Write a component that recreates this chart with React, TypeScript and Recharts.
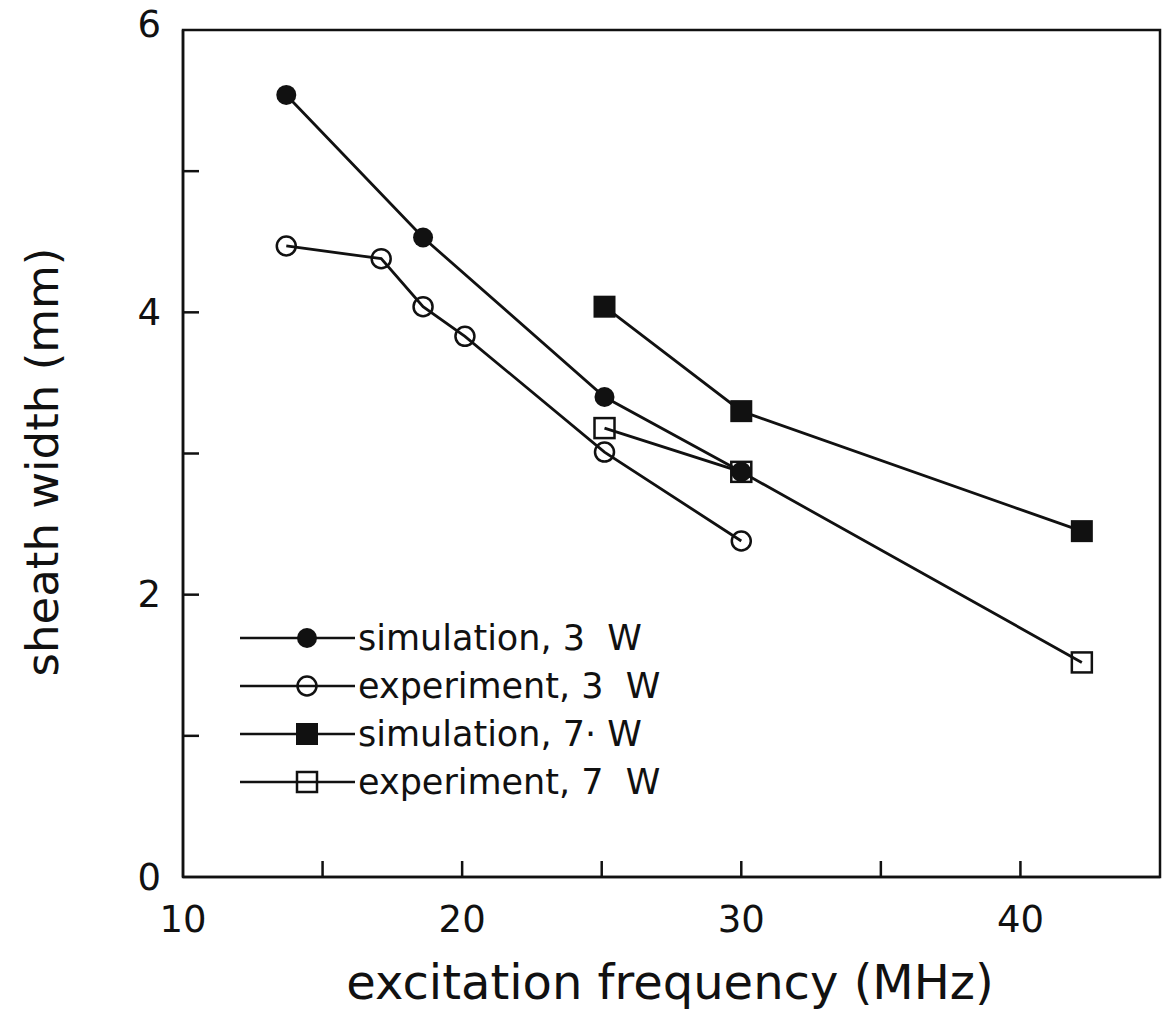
import React from "react";
import { LineChart, Line, XAxis, YAxis, ReferenceArea } from "recharts";

// values
const FREQ_SIM_3W = [13.7, 18.6, 25.1, 30.0];
const WIDTH_SIM_3W = [5.54, 4.53, 3.4, 2.87];
const FREQ_EXP_3W = [13.7, 17.1, 18.6, 20.1, 25.1, 30.0];
const WIDTH_EXP_3W = [4.47, 4.38, 4.04, 3.83, 3.01, 2.38];
const FREQ_SIM_7W = [25.1, 30.0, 42.2];
const WIDTH_SIM_7W = [4.04, 3.3, 2.45];
const FREQ_EXP_7W = [25.1, 30.0, 42.2];
const WIDTH_EXP_7W = [3.18, 2.87, 1.52];

const SERIES_NAMES = ["simulation, 3  W", "experiment, 3  W", "simulation, 7\u00b7 W", "experiment, 7  W"];

const X_TICKS = [10, 15, 20, 25, 30, 35, 40, 45];
const X_LABELED = [10, 20, 30, 40];
const Y_TICKS = [0, 1, 2, 3, 4, 5, 6];
const Y_LABELED = [0, 2, 4, 6];

const INK = "#111";
const FONT = "'DejaVu Sans', sans-serif";

const zip = (xs: number[], ys: number[]) => xs.map((f, i) => ({ f, w: ys[i] }));

const sim3 = zip(FREQ_SIM_3W, WIDTH_SIM_3W);
const exp3 = zip(FREQ_EXP_3W, WIDTH_EXP_3W);
const sim7 = zip(FREQ_SIM_7W, WIDTH_SIM_7W);
const exp7 = zip(FREQ_EXP_7W, WIDTH_EXP_7W);

type Shape = "fcircle" | "ocircle" | "fsquare" | "osquare";
const SHAPES: Shape[] = ["fcircle", "ocircle", "fsquare", "osquare"];

function Marker({ cx, cy, shape }: { cx: number; cy: number; shape: Shape }) {
  switch (shape) {
    case "fcircle":
      return <circle cx={cx} cy={cy} r={10} fill={INK} />;
    case "ocircle":
      return <circle cx={cx} cy={cy} r={9.5} fill="none" stroke={INK} strokeWidth={2.5} />;
    case "fsquare":
      return <rect x={cx - 11} y={cy - 11} width={22} height={22} fill={INK} />;
    default:
      return <rect x={cx - 10} y={cy - 10} width={20} height={20} fill="none" stroke={INK} strokeWidth={2.5} />;
  }
}

const dot = (shape: Shape) => (p: any) => <Marker key={p.index} cx={p.cx} cy={p.cy} shape={shape} />;

function XTick(props: any) {
  const { x, y, payload } = props;
  const v = payload.value;
  const inner = v > 10 && v < 45;
  return (
    <g>
      {inner && <line x1={x} x2={x} y1={y} y2={y - 16} stroke={INK} strokeWidth={2.5} />}
      {X_LABELED.includes(v) && (
        <text x={x} y={y + 42} textAnchor="middle" dominantBaseline="central" fontSize={37} fill={INK} fontFamily={FONT}>
          {v}
        </text>
      )}
    </g>
  );
}

function YTick(props: any) {
  const { x, y, payload } = props;
  const v = payload.value;
  const inner = v > 0 && v < 6;
  return (
    <g>
      {inner && <line x1={x} x2={x + 16} y1={y} y2={y} stroke={INK} strokeWidth={2.5} />}
      {Y_LABELED.includes(v) && (
        <text x={x - 22} y={v === 6 ? y - 6 : y} textAnchor="end" dominantBaseline="central" fontSize={37} fill={INK} fontFamily={FONT}>
          {v}
        </text>
      )}
    </g>
  );
}

function XTitle() {
  return (
    <text x={670} y={982} textAnchor="middle" dominantBaseline="central" fontSize={48} fill={INK} fontFamily={FONT}>
      excitation frequency (MHz)
    </text>
  );
}

function YTitle() {
  return (
    <text
      x={42}
      y={462}
      transform="rotate(-90, 42, 462)"
      textAnchor="middle"
      dominantBaseline="central"
      fontSize={45}
      fill={INK}
      fontFamily={FONT}
    >
      sheath width (mm)
    </text>
  );
}

function LegendBox() {
  return (
    <svg width={460} height={200} style={{ position: "absolute", left: 230, top: 610 }}>
      {SERIES_NAMES.map((name, i) => {
        const cy = 28 + i * 48;
        return (
          <g key={name}>
            <line x1={10} x2={125} y1={cy} y2={cy} stroke={INK} strokeWidth={2.5} />
            <Marker cx={77} cy={cy} shape={SHAPES[i]} />
            <text x={128} y={cy} dominantBaseline="central" fontSize={35} fill={INK} fontFamily={FONT} style={{ whiteSpace: "pre" }}>
              {name}
            </text>
          </g>
        );
      })}
    </svg>
  );
}

export default function App() {
  return (
    <div style={{ position: "absolute", left: 0, top: 0, width: 1171, height: 1017, background: "#fff" }}>
      <LineChart width={1171} height={1017} margin={{ top: 30, right: 11, bottom: 0, left: 63 }}>
        <XAxis
          dataKey="f"
          type="number"
          domain={[10, 45]}
          ticks={X_TICKS}
          interval={0}
          tickSize={0}
          tickMargin={0}
          tickLine={false}
          height={140}
          axisLine={{ stroke: INK, strokeWidth: 2.5 }}
          tick={XTick}
          label={<XTitle />}
          allowDataOverflow
        />
        <YAxis
          dataKey="w"
          type="number"
          domain={[0, 6]}
          ticks={Y_TICKS}
          interval={0}
          tickSize={0}
          tickMargin={0}
          tickLine={false}
          width={120}
          axisLine={{ stroke: INK, strokeWidth: 2.5 }}
          tick={YTick}
          label={<YTitle />}
          allowDataOverflow
        />
        <ReferenceArea x1={10} x2={45} y1={0} y2={6} fill="none" stroke={INK} strokeWidth={2.5} />
        <Line data={sim3} dataKey="w" stroke={INK} strokeWidth={2.8} dot={dot("fcircle")} isAnimationActive={false} />
        <Line data={exp3} dataKey="w" stroke={INK} strokeWidth={2.8} dot={dot("ocircle")} isAnimationActive={false} />
        <Line data={sim7} dataKey="w" stroke={INK} strokeWidth={2.8} dot={dot("fsquare")} isAnimationActive={false} />
        <Line data={exp7} dataKey="w" stroke={INK} strokeWidth={2.8} dot={dot("osquare")} isAnimationActive={false} />
      </LineChart>
      <LegendBox />
    </div>
  );
}
